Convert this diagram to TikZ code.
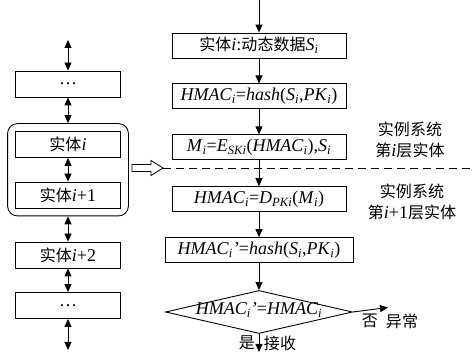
\documentclass[tikz,border=0pt]{standalone}
\usepackage{fontspec}
\setmainfont{Liberation Serif}
\newfontfamily\cjk[Scale=0.89]{Noto Sans CJK SC}
\usepackage{tikz}
\usetikzlibrary{arrows.meta,positioning,fit,shapes.geometric}
\newcommand{\vr}[1]{\textit{#1}}
\newcommand{\idx}[1]{\textsubscript{\textit{#1}}}

\begin{document}
\begin{tikzpicture}[x=1pt,y=-1pt,>={Triangle[length=8pt,width=7pt]},
  line width=0.9pt,node distance=25pt,
  flow node/.style={draw,rectangle,minimum width=174pt,minimum height=25pt,
    inner sep=1pt,font=\fontsize{18}{20}\selectfont},
  layer node/.style={draw,rectangle,minimum width=105pt,minimum height=26pt,
    inner sep=1pt,font=\fontsize{18}{20}\selectfont},
  note node/.style={align=center,font=\fontsize{18}{21}\selectfont},
  tag node/.style={font=\fontsize{18}{20}\selectfont}]
  \useasboundingbox (0,0) rectangle (474,352);

  % left column: the layers
  \node[layer node] (dots1) at (68,84) {\ldots};
  \node[layer node] (ent) at (68,144.5) {{\cjk 实体}\vr{i}};
  \node[layer node] (ent1) at (68,195) {{\cjk 实体}\vr{i}+1};
  \node[layer node] (ent2) at (68,255) {{\cjk 实体}\vr{i}+2};
  \node[layer node] (dots2) at (68,305.5) {\ldots};
  \node[draw,rounded corners=10pt,inner sep=7.5pt,fit=(ent) (ent1)] (pair) {};
  \coordinate (ltop) at (68,40);
  \coordinate (lbot) at (68,350);

  % right column: the flow
  \coordinate (rtop) at (259,0);
  \node[flow node] (data) at (259,45.5) {{\cjk 实体}\vr{i}:{\cjk 动态数据}\vr{S}\idx{i}};
  \node[flow node] (mac) [below=of data]
    {\vr{HMAC}\idx{i}=\vr{hash}(\vr{S}\idx{i},\vr{PK}\idx{i})};
  \node[flow node] (enc) [below=of mac]
    {\vr{M}\idx{i}=\vr{E}\idx{SKi}(\vr{HMAC}\idx{i}),\vr{S}\idx{i}};
  \node[flow node] (dec) [below=26pt of enc]
    {\vr{HMAC}\idx{i}=\vr{D}\idx{PKi}(\vr{M}\idx{i})};
  \node[flow node,minimum width=188pt] (mac2) [below=of dec]
    {\vr{HMAC}\idx{i}\vr{'}=\vr{hash}(\vr{S}\idx{i},\vr{PK}\idx{i})};
  \node[draw,diamond,aspect=4.35,inner sep=0pt,minimum width=187pt,minimum height=43pt,
    text height=9pt,text depth=3pt,font=\fontsize{18}{20}\selectfont]
    (check) [below=27pt of mac2] {\vr{HMAC}\idx{i}\vr{'}=\vr{HMAC}\idx{i}};
  \coordinate (fail) at (388,307.5);
  \coordinate (rbot) at (259,352);

  % the hand-over between layers
  \draw[line width=0.8pt] (132,164.5) -- (151,164.5) -- (151,160.5) -- (163,168)
    -- (151,175.5) -- (151,171.5) -- (132,171.5) -- cycle;
  \coordinate (tip) at (163,168);
  \coordinate (dashend) at (474,168);

  % texts
  \node[note node] (upper) at (410,140) {{\cjk 实例系统}\\{\cjk 第}\vr{i}{\cjk 层实体}};
  \node[note node] (lower) at (412,202) {{\cjk 实例系统}\\{\cjk 第}\vr{i}+1{\cjk 层实体}};
  \node[tag node] (no) at (370,321) {\cjk 否};
  \node[tag node] (abn) at (402,321) {\cjk 异常};
  \node[tag node] (yes) at (247,343) {\cjk 是};
  \node[tag node] (acc) at (280,343) {\cjk 接收};

  \path[<->]
    (ltop) edge (dots1)
    (dots1) edge (pair)
    (ent) edge (ent1)
    (pair) edge (ent2)
    (ent2) edge (dots2)
    (dots2) edge (lbot);
  \path[->]
    (rtop) edge (data)
    (data) edge (mac)
    (mac) edge (enc)
    (enc) edge (dec)
    (dec) edge (mac2)
    (mac2) edge (check)
    (check.east) edge (fail)
    (check) edge (rbot);
  \draw[dash pattern=on 8pt off 5pt] (tip) -- (dashend);
\end{tikzpicture}
\end{document}
